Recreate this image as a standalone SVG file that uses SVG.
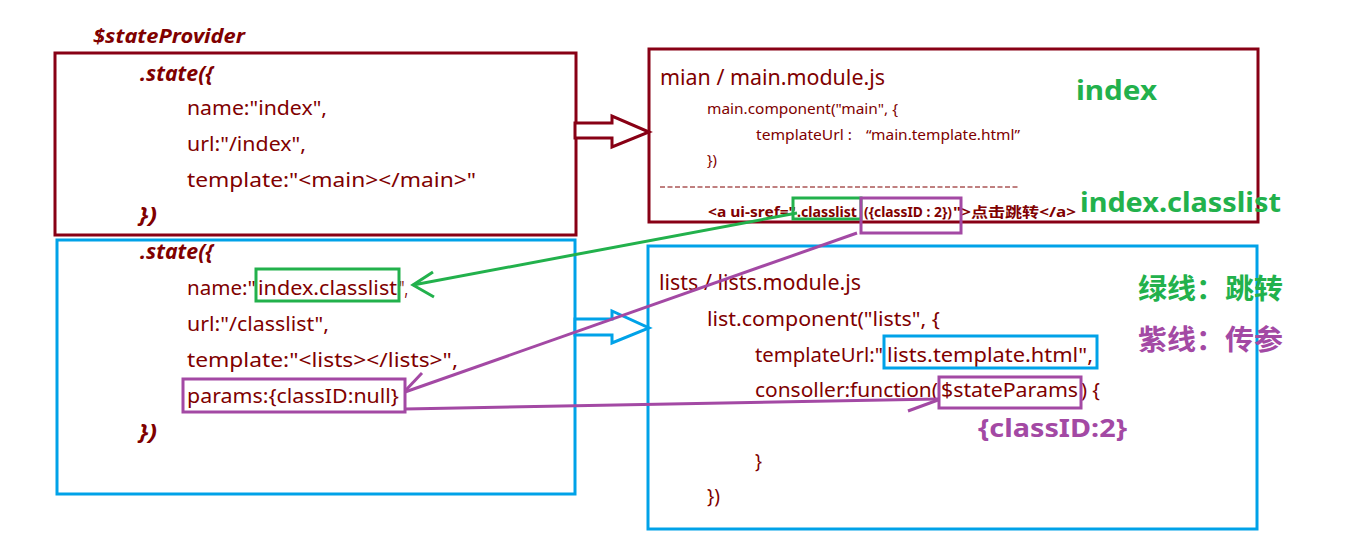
<svg xmlns="http://www.w3.org/2000/svg" width="1354" height="544" viewBox="0 0 1354 544">
<style>
text{font-family:"Noto Sans","Noto Sans CJK SC",sans-serif;fill:#800000}
.c{font-size:20px}
.s{font-size:15px}
.b{font-weight:bold}
.i{font-style:italic;font-weight:bold}
.st{font-size:22px}
.red{fill:none;stroke:#880015;stroke-width:3}
.blue{fill:none;stroke:#00A2E8;stroke-width:3}
.gbox{fill:none;stroke:#22B14C;stroke-width:3}
.pbox{fill:none;stroke:#A349A4;stroke-width:3}
.gl{fill:none;stroke:#22B14C;stroke-width:3}
.pl{fill:none;stroke:#A349A4;stroke-width:3}
.green{fill:#22B14C;font-weight:bold}
.purple{fill:#A349A4;font-weight:bold}
</style>
<rect width="1354" height="544" fill="#fff"/>

<text id="title" x="93" y="43" class="i" font-size="19" textLength="152" lengthAdjust="spacingAndGlyphs">$stateProvider</text>

<g id="state-index">
<rect class="red" x="55" y="53" width="521" height="182"/>
<text x="140" y="81" class="st i" textLength="73" lengthAdjust="spacingAndGlyphs">.state({</text>
<text x="187" y="115" class="c" textLength="140" lengthAdjust="spacingAndGlyphs">name:"index",</text>
<text x="187" y="151" class="c" textLength="119" lengthAdjust="spacingAndGlyphs">url:"/index",</text>
<text x="187" y="187" class="c" textLength="289" lengthAdjust="spacingAndGlyphs">template:"&lt;main&gt;&lt;/main&gt;"</text>
<text x="139" y="222" class="st i" textLength="18" lengthAdjust="spacingAndGlyphs">})</text>
</g>

<g id="state-classlist">
<rect class="blue" x="57" y="240" width="518" height="254"/>
<text x="140" y="259" class="st i" textLength="73" lengthAdjust="spacingAndGlyphs">.state({</text>
<text x="187" y="295" class="c" textLength="69" lengthAdjust="spacingAndGlyphs">name:"</text>
<text x="258" y="295" class="c" textLength="139" lengthAdjust="spacingAndGlyphs">index.classlist</text>
<text x="399" y="295" class="c" textLength="9" lengthAdjust="spacingAndGlyphs">",</text>
<rect class="gbox" x="256" y="269" width="143" height="32"/>
<text x="187" y="331" class="c" textLength="142" lengthAdjust="spacingAndGlyphs">url:"/classlist",</text>
<text x="187" y="367" class="c" textLength="271" lengthAdjust="spacingAndGlyphs">template:"&lt;lists&gt;&lt;/lists&gt;",</text>
<text x="187" y="403" class="c" textLength="212" lengthAdjust="spacingAndGlyphs">params:{classID:null}</text>
<rect class="pbox" x="183" y="379" width="222" height="33"/>
<text x="139" y="439" class="st i" textLength="18" lengthAdjust="spacingAndGlyphs">})</text>
</g>

<g id="main-module">
<rect class="red" x="649" y="49" width="609" height="173"/>
<text x="660" y="85" font-size="21" textLength="225" lengthAdjust="spacingAndGlyphs">mian / main.module.js</text>
<text x="707" y="114" class="s" textLength="191" lengthAdjust="spacingAndGlyphs">main.component("main", {</text>
<text x="756" y="140" class="s" textLength="96" lengthAdjust="spacingAndGlyphs">templateUrl :</text>
<text x="866" y="140" class="s" textLength="154" lengthAdjust="spacingAndGlyphs">“main.template.html”</text>
<text x="707" y="165" class="s" textLength="10" lengthAdjust="spacingAndGlyphs">})</text>
<line x1="660" y1="187" x2="1018" y2="187" stroke="#800000" stroke-width="1" stroke-dasharray="5,2.5"/>
<text x="708" y="217" class="b" font-size="14" textLength="88" lengthAdjust="spacingAndGlyphs">&lt;a ui-sref="</text>
<text x="797" y="217" class="b" font-size="14" textLength="60" lengthAdjust="spacingAndGlyphs">.classlist</text>
<text x="864" y="217" class="b" font-size="14" textLength="88" lengthAdjust="spacingAndGlyphs">({classID : 2})</text>
<text x="953" y="217" class="b" font-size="14" textLength="123" lengthAdjust="spacingAndGlyphs">"&gt;点击跳转&lt;/a&gt;</text>
<rect class="gbox" x="793" y="198" width="68" height="21"/>
<rect class="pbox" x="861" y="198" width="100" height="35"/>
</g>

<g id="lists-module">
<rect class="blue" x="648" y="246" width="609" height="283"/>
<text x="659" y="290" font-size="21" textLength="202" lengthAdjust="spacingAndGlyphs">lists / lists.module.js</text>
<text x="707" y="326" class="c" textLength="233" lengthAdjust="spacingAndGlyphs">list.component("lists", {</text>
<text x="755" y="362" class="c" textLength="128" lengthAdjust="spacingAndGlyphs">templateUrl:"</text>
<text x="887" y="362" class="c" textLength="206" lengthAdjust="spacingAndGlyphs">lists.template.html",</text>
<rect class="blue" x="884" y="336" width="213" height="32"/>
<text x="755" y="397" class="c" textLength="183" lengthAdjust="spacingAndGlyphs">consoller:function(</text>
<text x="941" y="397" class="c" textLength="137" lengthAdjust="spacingAndGlyphs">$stateParams</text>
<text x="1081" y="397" class="c" textLength="19" lengthAdjust="spacingAndGlyphs">) {</text>
<rect class="pbox" x="939" y="377" width="142" height="31"/>
<text x="978" y="437" class="purple" font-size="25" textLength="149" lengthAdjust="spacingAndGlyphs">{classID:2}</text>
<text x="755" y="468" class="c" textLength="7" lengthAdjust="spacingAndGlyphs">}</text>
<text x="707" y="503" class="c" textLength="13" lengthAdjust="spacingAndGlyphs">})</text>
</g>

<g id="legend">
<text x="1076" y="100" class="green" font-size="27" textLength="81" lengthAdjust="spacingAndGlyphs">index</text>
<text x="1080" y="212" class="green" font-size="27" textLength="201" lengthAdjust="spacingAndGlyphs">index.classlist</text>
<text x="1138" y="299" class="green" font-size="28" textLength="145" lengthAdjust="spacingAndGlyphs">绿线：跳转</text>
<text x="1138" y="350" class="purple" font-size="28" textLength="145" lengthAdjust="spacingAndGlyphs">紫线：传参</text>
</g>

<g id="connectors">
<polygon points="575,123 612,123 612,116 649,132 612,147 612,138 575,138" fill="#fff" stroke="#880015" stroke-width="3"/>
<polygon points="575,319 612,319 612,311 649,328 612,343 612,335 575,335" fill="#fff" stroke="#00A2E8" stroke-width="3"/>
<line class="gl" x1="797" y1="213" x2="413" y2="285"/>
<polyline class="gl" points="433,272 413,285 434,297"/>
<line class="pl" x1="857" y1="233" x2="405" y2="392"/>
<polyline class="pl" points="422,373 405,391"/>
<line class="pl" x1="405" y1="409" x2="938" y2="399"/>
<polyline class="pl" points="908,411 938,400"/>
</g>
</svg>
